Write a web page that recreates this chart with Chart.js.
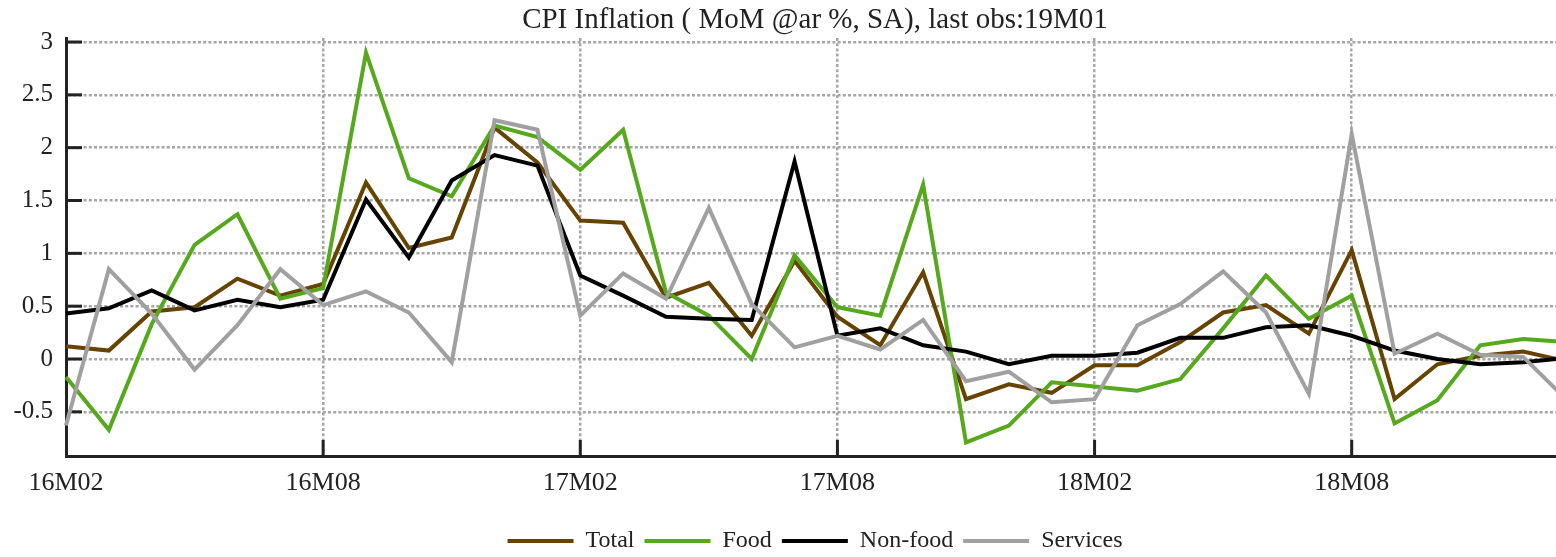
<!DOCTYPE html>
<html>
<head>
<meta charset="utf-8">
<script src="https://cdn.jsdelivr.net/npm/chart.js@4.4.1/dist/chart.umd.min.js"></script>
<style>
  html, body { margin: 0; padding: 0; background: #ffffff; overflow: hidden; }
  #wrap { width: 1630px; height: 563px; }
</style>
</head>
<body>
<div id="wrap"><canvas id="c" width="1630" height="563"></canvas></div>
<script>
const months = ["16M02","16M03","16M04","16M05","16M06","16M07","16M08","16M09","16M10","16M11","16M12",
  "17M01","17M02","17M03","17M04","17M05","17M06","17M07","17M08","17M09","17M10","17M11","17M12",
  "18M01","18M02","18M03","18M04","18M05","18M06","18M07","18M08","18M09","18M10","18M11","18M12",
  "19M01"];

const total = [0.12, 0.08, 0.45, 0.49, 0.76, 0.60, 0.71, 1.67, 1.05, 1.15, 2.19, 1.86,
  1.31, 1.29, 0.58, 0.72, 0.22, 0.93, 0.40, 0.13, 0.82, -0.38, -0.24, -0.32,
  -0.06, -0.06, 0.16, 0.44, 0.51, 0.24, 1.03, -0.38, -0.05, 0.03, 0.07, -0.02];

const food = [-0.17, -0.67, 0.33, 1.08, 1.37, 0.57, 0.67, 2.90, 1.71, 1.54, 2.21, 2.10,
  1.79, 2.17, 0.63, 0.41, 0.00, 0.98, 0.49, 0.41, 1.65, -0.79, -0.63, -0.22,
  -0.26, -0.30, -0.19, 0.29, 0.79, 0.38, 0.60, -0.61, -0.39, 0.13, 0.19, 0.16];

const nonFood = [0.43, 0.48, 0.65, 0.46, 0.56, 0.49, 0.56, 1.51, 0.96, 1.69, 1.93, 1.83,
  0.79, 0.60, 0.40, 0.38, 0.37, 1.87, 0.22, 0.29, 0.13, 0.07, -0.05, 0.03,
  0.03, 0.06, 0.20, 0.20, 0.30, 0.32, 0.22, 0.08, 0.00, -0.05, -0.03, 0.01];

const services = [-0.63, 0.85, 0.43, -0.10, 0.32, 0.85, 0.51, 0.64, 0.44, -0.03, 2.26, 2.17,
  0.41, 0.81, 0.57, 1.43, 0.52, 0.11, 0.22, 0.09, 0.37, -0.21, -0.12, -0.41,
  -0.38, 0.32, 0.52, 0.83, 0.44, -0.33, 2.13, 0.05, 0.24, 0.04, 0.02, -0.38];

const seriesNames = ["Total", "Food", "Non-food", "Services"];
const yTicks = [-0.5, 0, 0.5, 1, 1.5, 2, 2.5, 3];

const COLORS = ["#664400", "#56a81c", "#000000", "#a0a0a0"];
const FONT = "'Liberation Serif', 'Times New Roman', serif";
const TEXT = "#222222";
const GRID = "#a6a6a6";
const LABEL_EVERY = 6;

const innerTicks = {
  id: 'innerTicks',
  beforeDatasetsDraw(chart) {
    const { ctx, chartArea, scales } = chart;
    const x = scales.x, y = scales.y;
    ctx.save();
    ctx.strokeStyle = TEXT;
    ctx.lineWidth = 3;
    ctx.setLineDash([]);
    yTicks.forEach(v => {
      const py = y.getPixelForValue(v);
      ctx.beginPath();
      ctx.moveTo(chartArea.left, py);
      ctx.lineTo(chartArea.left + 16, py);
      ctx.stroke();
    });
    months.forEach((m, i) => {
      if (i > 0 && i % LABEL_EVERY === 0) {
        const px = x.getPixelForValue(i);
        ctx.beginPath();
        ctx.moveTo(px, chartArea.bottom);
        ctx.lineTo(px, chartArea.bottom - 16);
        ctx.stroke();
      }
    });
    ctx.restore();
  }
};

const datasets = [total, food, nonFood, services].map((d, i) => ({
  label: seriesNames[i],
  data: d,
  borderColor: COLORS[i],
  backgroundColor: COLORS[i],
  borderWidth: 4,
  pointRadius: 0,
  tension: 0,
  fill: false,
  order: 3 - i,
  yAxisID: 'y'
}));

new Chart(document.getElementById('c'), {
  type: 'line',
  data: { labels: months, datasets },
  plugins: [innerTicks],
  options: {
    responsive: false,
    animation: false,
    devicePixelRatio: 1,
    layout: { padding: 0 },
    plugins: {
      title: {
        display: true,
        text: 'CPI Inflation ( MoM @ar %, SA), last obs:19M01',
        color: TEXT,
        font: { family: FONT, size: 29, weight: 'normal', lineHeight: 1.2 },
        padding: { top: 3, bottom: 0.2 }
      },
      legend: {
        display: true,
        position: 'bottom',
        labels: {
          color: TEXT,
          font: { family: FONT, size: 24 },
          boxWidth: 66,
          boxHeight: 4,
          padding: 10,
          sort: (a, b) => a.datasetIndex - b.datasetIndex,
          generateLabels(chart) {
            const items = Chart.defaults.plugins.legend.labels.generateLabels(chart);
            items.forEach(it => { it.lineWidth = 0; it.fillStyle = COLORS[it.datasetIndex]; it.strokeStyle = COLORS[it.datasetIndex]; });
            return items;
          }
        }
      },
      tooltip: { enabled: false }
    },
    scales: {
      x: {
        type: 'category',
        offset: false,
        afterFit(s) { s.height = 63; },
        grid: {
          drawTicks: false,
          lineWidth: 2.5,
          color: c => (c.index > 0 && c.index % LABEL_EVERY === 0) ? GRID : 'rgba(0,0,0,0)'
        },
        border: { display: true, color: TEXT, width: 3, dash: [3, 2.2] },
        ticks: {
          autoSkip: false,
          maxRotation: 0,
          minRotation: 0,
          padding: 12,
          color: TEXT,
          font: { family: FONT, size: 26 },
          callback: (v, i) => (i % LABEL_EVERY === 0 ? months[i] : '')
        }
      },
      y: {
        type: 'linear',
        position: 'left',
        min: -0.918,
        max: 3.038,
        afterFit(s) { s.width = 66; },
        afterBuildTicks(s) { s.ticks = yTicks.map(v => ({ value: v })); },
        grid: { drawTicks: false, lineWidth: 2.5, color: GRID },
        border: { display: true, color: TEXT, width: 3, dash: [3, 2.2] },
        ticks: {
          padding: 13,
          color: TEXT,
          font: { family: FONT, size: 25 },
          callback: v => String(Math.round(v * 10) / 10)
        }
      },
      yr: {
        type: 'linear',
        position: 'right',
        min: -0.918,
        max: 3.038,
        afterFit(s) { s.width = 64; },
        grid: { display: false, drawTicks: false },
        border: { display: false },
        ticks: { display: false }
      }
    }
  }
});
</script>
</body>
</html>
